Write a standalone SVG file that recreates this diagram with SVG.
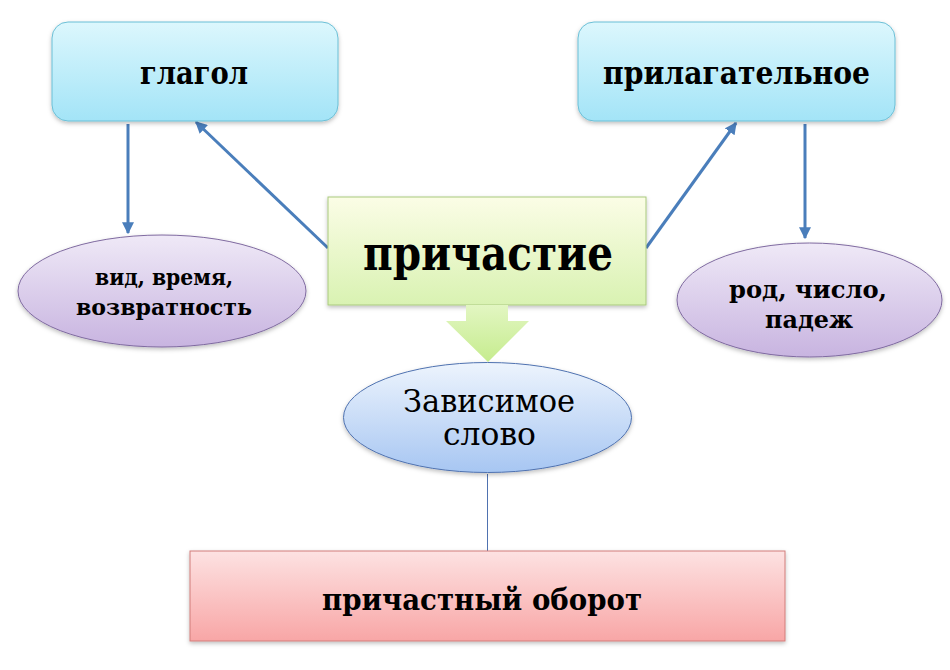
<svg xmlns="http://www.w3.org/2000/svg" width="950" height="670" viewBox="0 0 950 670">
<style>
.b{font-family:'DejaVu Serif Condensed','DejaVu Serif',serif;font-stretch:condensed;font-weight:700;fill:#000;text-anchor:middle}
.r{font-family:'DejaVu Serif Condensed','DejaVu Serif',serif;font-stretch:condensed;font-weight:400;fill:#000;text-anchor:middle}
.conn{stroke:#4a7ebb;stroke-width:3;fill:none}
</style>
<defs>
<linearGradient id="gBlue" x1="0" y1="0" x2="0" y2="1"><stop offset="0" stop-color="#dcf7fd"/><stop offset="1" stop-color="#a3e4f7"/></linearGradient>
<linearGradient id="gPurple" x1="0" y1="0" x2="0" y2="1"><stop offset="0" stop-color="#efe9f7"/><stop offset="1" stop-color="#c8b4e0"/></linearGradient>
<linearGradient id="gGreen" x1="0" y1="0" x2="0" y2="1"><stop offset="0" stop-color="#fbfde6"/><stop offset="1" stop-color="#d9f2b2"/></linearGradient>
<linearGradient id="gArrow" x1="0" y1="0" x2="0" y2="1"><stop offset="0" stop-color="#e2f6c2"/><stop offset="1" stop-color="#c6ec8e"/></linearGradient>
<linearGradient id="gSky" x1="0" y1="0" x2="0" y2="1"><stop offset="0" stop-color="#edf4fd"/><stop offset="1" stop-color="#a7c6f2"/></linearGradient>
<linearGradient id="gRed" x1="0" y1="0" x2="0" y2="1"><stop offset="0" stop-color="#fde2e2"/><stop offset="1" stop-color="#f8a6a6"/></linearGradient>
<filter id="sh" x="-10%" y="-10%" width="120%" height="130%"><feDropShadow dx="0" dy="2" stdDeviation="2" flood-color="#000" flood-opacity="0.25"/></filter>
<marker id="ah" viewBox="0 0 10 10" refX="9" refY="5" markerWidth="4" markerHeight="4" orient="auto" markerUnits="strokeWidth"><path d="M0,0 L10,5 L0,10 z" fill="#4a7ebb"/></marker>
</defs>
<rect width="950" height="670" fill="#fff"/>
<g id="connectors">
<line class="conn" x1="128" y1="124" x2="128" y2="233" marker-end="url(#ah)"/>
<line class="conn" x1="328" y1="248" x2="196" y2="122" marker-end="url(#ah)"/>
<line class="conn" x1="646" y1="248" x2="736" y2="123" marker-end="url(#ah)"/>
<line class="conn" x1="805" y1="124" x2="805" y2="238" marker-end="url(#ah)"/>
<line x1="487.5" y1="474" x2="487.5" y2="551" stroke="#4f72b0" stroke-width="1"/>
</g>
<g id="glagol">
<rect x="52" y="22" width="286" height="99" rx="16" fill="url(#gBlue)" stroke="#6bbfd6" stroke-width="1" filter="url(#sh)"/>
<text class="b" x="194" y="84" font-size="31" textLength="108" lengthAdjust="spacingAndGlyphs">глагол</text>
</g>
<g id="prilagatelnoe">
<rect x="578" y="22" width="317" height="99" rx="16" fill="url(#gBlue)" stroke="#6bbfd6" stroke-width="1" filter="url(#sh)"/>
<text class="b" x="736.5" y="84" font-size="31" textLength="267" lengthAdjust="spacingAndGlyphs">прилагательное</text>
</g>
<g id="vid">
<ellipse cx="162" cy="291" rx="144" ry="56" fill="url(#gPurple)" stroke="#7f6aa0" stroke-width="1" filter="url(#sh)"/>
<text class="b" x="164" y="285" font-size="23" textLength="138" lengthAdjust="spacingAndGlyphs">вид, время,</text>
<text class="b" x="164" y="315" font-size="23" textLength="176" lengthAdjust="spacingAndGlyphs">возвратность</text>
</g>
<g id="rod">
<ellipse cx="809.5" cy="300" rx="132.5" ry="57" fill="url(#gPurple)" stroke="#7f6aa0" stroke-width="1" filter="url(#sh)"/>
<text class="b" x="808" y="298" font-size="25" textLength="158" lengthAdjust="spacingAndGlyphs">род, число,</text>
<text class="b" x="809" y="328" font-size="25" textLength="88" lengthAdjust="spacingAndGlyphs">падеж</text>
</g>
<g id="zavisimoe">
<ellipse cx="487.5" cy="417.5" rx="144" ry="55" fill="url(#gSky)" stroke="#4f72b0" stroke-width="1" filter="url(#sh)"/>
<text class="r" x="489" y="412" font-size="31" textLength="172" lengthAdjust="spacingAndGlyphs">Зависимое</text>
<text class="r" x="489.5" y="445" font-size="31" textLength="93" lengthAdjust="spacingAndGlyphs">слово</text>
</g>
<g id="prichastie">
<rect x="328" y="197" width="318" height="108" fill="url(#gGreen)" stroke="#a9c97e" stroke-width="1" filter="url(#sh)"/>
<path d="M466,305 L508,305 L508,321 L529,321 L488,362 L446,321 L466,321 Z" fill="url(#gArrow)"/>
<text class="b" x="488" y="270" font-size="48" textLength="250" lengthAdjust="spacingAndGlyphs">причастие</text>
</g>
<g id="oborot">
<rect x="190" y="551" width="595" height="90" fill="url(#gRed)" stroke="#d27c7a" stroke-width="1" filter="url(#sh)"/>
<text class="b" x="482" y="610" font-size="29" textLength="320" lengthAdjust="spacingAndGlyphs">причастный оборот</text>
</g>
</svg>
